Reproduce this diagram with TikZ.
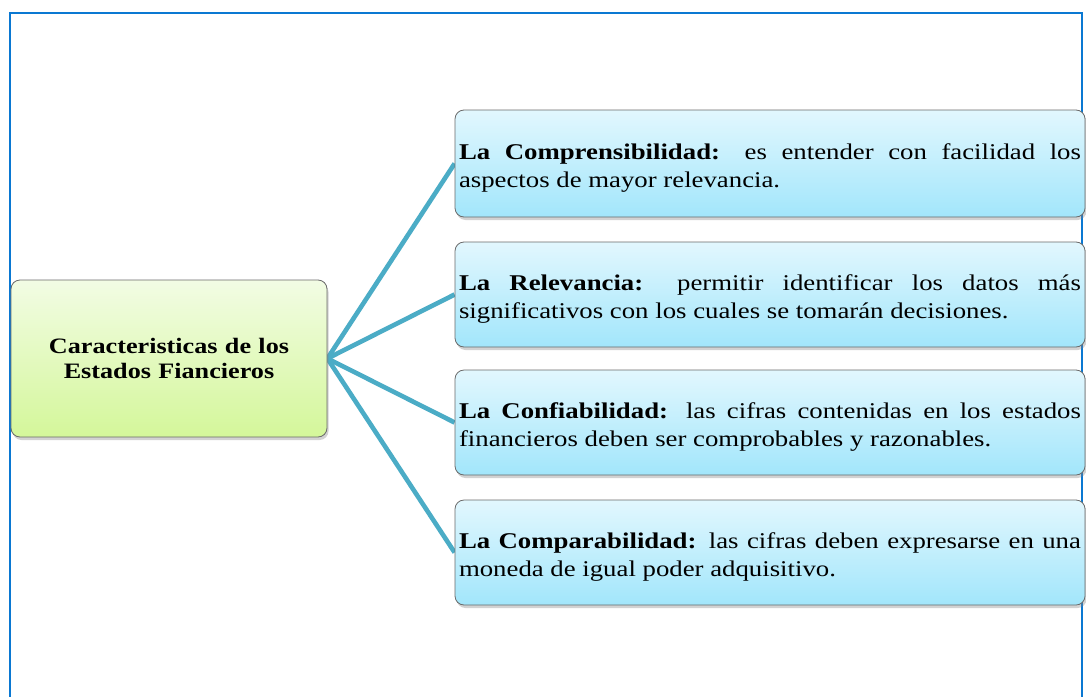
\documentclass[tikz,border=0pt]{standalone}
\usepackage{fontspec}
\setmainfont{Liberation Serif}[FakeStretch=1.19]
\usetikzlibrary{shadows,backgrounds}
\definecolor{frameblue}{HTML}{0A78D2}
\definecolor{linkblue}{HTML}{4BACC6}
\definecolor{gtop}{HTML}{F2FCE4}
\definecolor{gbot}{HTML}{D4F79A}
\definecolor{btop}{HTML}{E2F7FE}
\definecolor{bbot}{HTML}{A2E6FB}
\definecolor{edgegray}{HTML}{6A6A6A}
\hyphenpenalty=10000
\exhyphenpenalty=10000
\tolerance=9999
\newcommand{\myshiftend}{\endgraf\vspace*{-9pt}}
\begin{document}
\begin{tikzpicture}[x=1pt,y=-1pt,
  mainbox/.style={draw=edgegray, line width=0.8pt, rounded corners=9pt,
    top color=gtop, bottom color=gbot, minimum width=316pt, minimum height=157pt,
    text width=300pt, align=center, font=\fontsize{22}{25}\selectfont\bfseries,
    drop shadow={shadow xshift=1.5pt, shadow yshift=-3pt, opacity=0.35}},
  itembox/.style={draw=edgegray, line width=0.8pt, rounded corners=9pt,
    top color=btop, bottom color=bbot, minimum width=630pt, minimum height=105pt,
    text width=622pt, inner xsep=4pt, align=justify, font=\fontsize{22.5}{28}\selectfont,
    execute at end node=\myshiftend,
    drop shadow={shadow xshift=1.5pt, shadow yshift=-3pt, opacity=0.35}},
  link/.style={draw=linkblue, line width=4.6pt}]
\useasboundingbox (0,0) rectangle (1086,696);
\draw[frameblue, line width=2pt] (10,700) -- (10,13) -- (1082,13) -- (1082,700);
\node[mainbox] (hub) at (169,358.5) {Caracteristicas de los\\Estados Fiancieros};
\node[itembox, minimum height=107pt] (c1) at (770,163.5) {\textbf{La Comprensibilidad:} es entender con facilidad los aspectos de mayor relevancia.};
\node[itembox] (c2) at (770,294.5) {\textbf{La Relevancia:} permitir identificar los datos más significativos con los cuales se tomarán decisiones.};
\node[itembox] (c3) at (770,422.5) {\textbf{La Confiabilidad:} las cifras contenidas en los estados financieros deben ser comprobables y razonables.};
\node[itembox] (c4) at (770,552.5) {\textbf{La Comparabilidad:} las cifras deben expresarse en una moneda de igual poder adquisitivo.};
\begin{scope}[on background layer]
\fill[white] (0,0) rectangle (1086,696);
\draw[link] (hub.east) -- (c1.west);
\draw[link] (hub.east) -- (c2.west);
\draw[link] (hub.east) -- (c3.west);
\draw[link] (hub.east) -- (c4.west);
\end{scope}
\end{tikzpicture}
\end{document}
